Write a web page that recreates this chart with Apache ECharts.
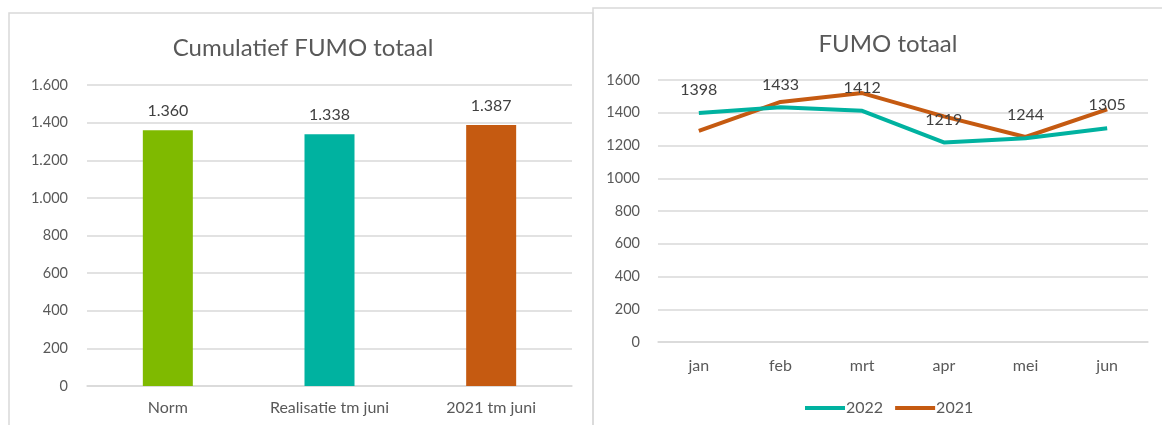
<!DOCTYPE html>
<html>
<head>
<meta charset="utf-8">
<script src="https://cdn.jsdelivr.net/npm/echarts@6/dist/echarts.min.js"></script>
<style>
  html, body { margin: 0; padding: 0; background: #fff; }
  #chart { width: 1162px; height: 425px; }
</style>
</head>
<body>
<div id="chart"></div>
<script>
// linker grafiek: cumulatief
var barCategories = ['Norm', 'Realisatie tm juni', '2021 tm juni'];
var barValues = [1360, 1338, 1387];
var barColors = ['#7fba00', '#00b2a0', '#c55a11'];

// rechter grafiek: per maand
var months = ['jan', 'feb', 'mrt', 'apr', 'mei', 'jun'];
var values2022 = [1398, 1433, 1412, 1219, 1244, 1305];
var values2021 = [1290, 1466, 1520, 1378, 1252, 1420];

var font = 'Lato';
var txt = '#595959';

// 1.600 stijl (punt als duizendtal-scheiding)
function nl(v) {
  return String(v).replace(/\B(?=(\d{3})+(?!\d))/g, '.');
}

var Chart = echarts.init(document.getElementById('chart'));
var option = {
  backgroundColor: '#fff',
  textStyle: { fontFamily: font },
  animation: false,
  graphic: [
    { type: 'rect', shape: { x: 9, y: 13, width: 584, height: 420 },
      style: { fill: 'none', stroke: '#d9d9d9', lineWidth: 1.5 }, z: -1 },
    { type: 'rect', shape: { x: 593, y: 8, width: 580, height: 430 },
      style: { fill: 'none', stroke: '#d9d9d9', lineWidth: 1.5 }, z: -1 }
  ],
  title: [
    { text: 'Cumulatief FUMO totaal', left: 298, top: 31, textAlign: 'center',
      textStyle: { fontSize: 24, fontWeight: 'normal', color: txt, fontFamily: font } },
    { text: 'FUMO totaal', left: 883, top: 27, textAlign: 'center',
      textStyle: { fontSize: 24, fontWeight: 'normal', color: txt, fontFamily: font } }
  ],
  legend: {
    data: ['2022', '2021'],
    left: 800, top: 395,
    icon: 'rect',
    itemWidth: 40, itemHeight: 4, itemGap: 12,
    textStyle: { color: txt, fontSize: 16, fontFamily: font, padding: [0, 0, 0, -4] }
  },
  grid: [
    { left: 87, right: 590, top: 85, height: 301 },
    { left: 658, right: 14, top: 80, height: 262 }
  ],
  xAxis: [
    { type: 'category', gridIndex: 0, data: barCategories,
      axisLine: { lineStyle: { color: '#d9d9d9', width: 1.5 } },
      axisTick: { show: false },
      axisLabel: { color: txt, fontSize: 16, margin: 14 } },
    { type: 'category', gridIndex: 1, data: months,
      axisLine: { lineStyle: { color: '#d9d9d9', width: 1.5 } },
      axisTick: { show: false },
      axisLabel: { color: txt, fontSize: 16, margin: 16 } }
  ],
  yAxis: [
    { type: 'value', gridIndex: 0, min: 0, max: 1600, interval: 200,
      axisLine: { show: false }, axisTick: { show: false },
      splitLine: { lineStyle: { color: '#d9d9d9', width: 1.5 } },
      axisLabel: { color: txt, fontSize: 14.5, margin: 19, formatter: nl } },
    { type: 'value', gridIndex: 1, min: 0, max: 1600, interval: 200,
      axisLine: { show: false }, axisTick: { show: false },
      splitLine: { lineStyle: { color: '#d9d9d9', width: 1.5 } },
      axisLabel: { color: txt, fontSize: 14.5, margin: 18,
        formatter: function (v) { return String(v); } } }
  ],
  series: [
    {
      name: 'cumulatief',
      type: 'bar',
      xAxisIndex: 0, yAxisIndex: 0,
      barWidth: 50,
      data: barValues.map(function (v, i) {
        return { value: v, itemStyle: { color: barColors[i] } };
      }),
      label: { show: true, position: 'top', distance: 11, color: '#404040', fontSize: 16,
        formatter: function (p) { return nl(p.value); } }
    },
    {
      name: '2022',
      type: 'line',
      xAxisIndex: 1, yAxisIndex: 1,
      data: values2022,
      symbol: 'circle',
      symbolSize: 0,
      color: '#00b2a0',
      lineStyle: { width: 4, color: '#00b2a0' },
      label: { show: true, position: 'top', distance: 15, color: '#404040', fontSize: 16 },
      labelLayout: { hideOverlap: false },
      z: 5
    },
    {
      name: '2021',
      type: 'line',
      xAxisIndex: 1, yAxisIndex: 1,
      data: values2021,
      symbol: 'none',
      color: '#c55a11',
      lineStyle: { width: 4, color: '#c55a11' },
      z: 4
    }
  ]
};
Chart.setOption(option);
</script>
</body>
</html>
